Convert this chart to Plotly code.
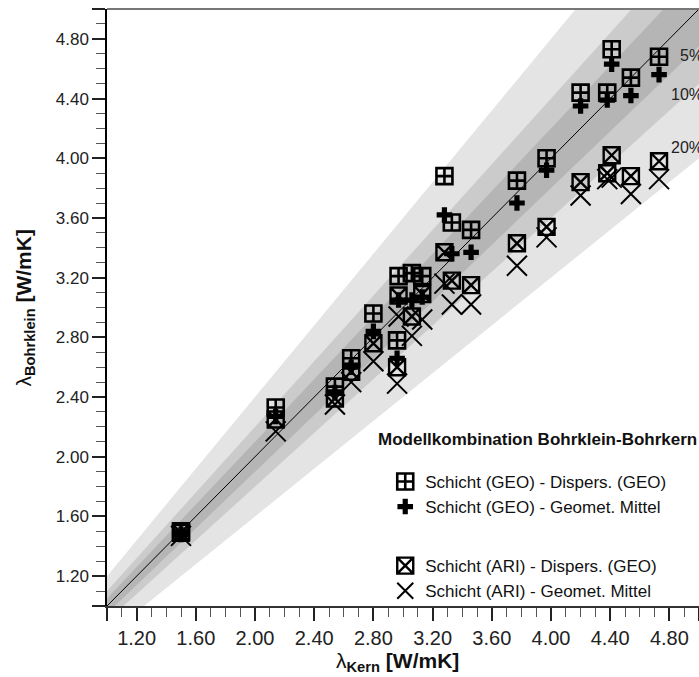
import plotly.graph_objects as go

# ---- data ----
kern = [1.50, 2.14, 2.54, 2.65, 2.80, 2.96, 2.97, 3.06, 3.13, 3.28, 3.33, 3.46,
        3.77, 3.97, 4.20, 4.38, 4.41, 4.54, 4.73]
geo_disp = [1.50, 2.33, 2.47, 2.66, 2.96, 2.78, 3.21, 3.23, 3.21, 3.88, 3.57, 3.52,
            3.85, 4.00, 4.44, 4.44, 4.73, 4.54, 4.68]
geo_geom = [1.48, 2.27, 2.43, 2.60, 2.84, 2.66, 3.05, 3.05, 3.07, 3.62, 3.36, 3.37,
            3.70, 3.92, 4.35, 4.39, 4.63, 4.42, 4.56]
ari_disp = [1.49, 2.25, 2.39, 2.57, 2.76, 2.60, 3.08, 2.94, 3.09, 3.37, 3.18, 3.15,
            3.43, 3.54, 3.84, 3.90, 4.02, 3.88, 3.98]
ari_geom = [1.47, 2.17, 2.35, 2.50, 2.64, 2.49, 2.94, 2.81, 2.92, 3.16, 3.02, 3.02,
            3.28, 3.47, 3.75, 3.86, 3.87, 3.76, 3.86]

series_names = ["Schicht (GEO) - Dispers. (GEO)", "Schicht (GEO) - Geomet. Mittel",
                "Schicht (ARI) - Dispers. (GEO)", "Schicht (ARI) - Geomet. Mittel"]
band_levels = [0.20, 0.10, 0.05]
band_labels = ["20%", "10%", "5%"]
tick_vals = [1.0, 1.2, 1.6, 2.0, 2.4, 2.8, 3.2, 3.6, 4.0, 4.4, 4.8, 5.0]
tick_text = ["", "1.20", "1.60", "2.00", "2.40", "2.80", "3.20", "3.60", "4.00", "4.40", "4.80", ""]

FONT = "Liberation Sans, Arial, sans-serif"
band_colors = ["#e4e4e4", "#cbcbcb", "#b5b5b5"]

fig = go.Figure()

# deviation bands (wedges around y = x)
xa, xb = 0.8, 5.3
for p, col in zip(band_levels, band_colors):
    fig.add_trace(go.Scatter(
        x=[xa, xb, xb, xa, xa],
        y=[xa * (1 + p), xb * (1 + p), xb * (1 - p), xa * (1 - p), xa * (1 + p)],
        fill="toself", fillcolor=col, mode="none", showlegend=False, hoverinfo="skip"))

fig.add_trace(go.Scatter(x=[xa, xb], y=[xa, xb], mode="lines",
                         line=dict(color="black", width=1), showlegend=False, hoverinfo="skip"))

styles = [
    dict(symbol="square-cross-open", size=16, color="black", line=dict(width=2.6, color="black")),
    dict(symbol="cross", size=13, color="black", line=dict(width=0)),
    dict(symbol="square-x-open", size=16, color="black", line=dict(width=2.4, color="black")),
    dict(symbol="x-thin-open", size=20, color="black", line=dict(width=2, color="black")),
]
groups = ["g1", "g1", "g2", "g2"]
for name, ys, st, g in zip(series_names, [geo_disp, geo_geom, ari_disp, ari_geom], styles, groups):
    fig.add_trace(go.Scatter(x=kern, y=ys, mode="markers", name=name, marker=st,
                             legendgroup=g, cliponaxis=False))

axis_common = dict(
    range=[1.0, 5.0], tickmode="array", tickvals=tick_vals, ticktext=tick_text,
    ticks="outside", ticklen=13, tickwidth=1.5, tickcolor="#222",
    showline=True, linewidth=1.5, showgrid=False, zeroline=False,
    minor=dict(tickmode="linear", tick0=1.0, dtick=0.1, ticks="outside",
               ticklen=9, tickwidth=1.2, tickcolor="#555", showgrid=False),
)

fig.update_xaxes(**axis_common, linecolor="#333",
                 tickfont=dict(family=FONT, size=20, color="#222"))
fig.update_yaxes(**axis_common, linecolor="black",
                 tickfont=dict(family=FONT, size=17, color="#222"))

annotations = [
    dict(text="λ<sub><b>Kern</b></sub> <b>[W/mK]</b>", xref="paper", yref="paper",
         x=0.49, y=-0.094, xanchor="center", yanchor="middle", showarrow=False,
         font=dict(family=FONT, size=21, color="#111")),
    dict(text="λ<sub><b>Bohrklein</b></sub> <b>[W/mK]</b>", xref="paper", yref="paper",
         x=-0.14, y=0.50, xanchor="center", yanchor="middle", textangle=-90, showarrow=False,
         font=dict(family=FONT, size=21, color="#111")),
    dict(text="<b>Modellkombination Bohrklein-Bohrkern</b>", xref="paper", yref="paper",
         x=0.455, y=0.279, xanchor="left", yanchor="middle", showarrow=False,
         font=dict(family=FONT, size=17, color="#111")),
]
label_pos = {"5%": (4.855, 4.69), "10%": (4.80, 4.425), "20%": (4.80, 4.07)}
for lab in band_labels:
    px_, py_ = label_pos[lab]
    annotations.append(dict(text=lab, x=px_, y=py_, xref="x", yref="y", xanchor="left",
                            yanchor="middle", showarrow=False,
                            font=dict(family=FONT, size=16, color="#222")))

fig.update_layout(
    width=699, height=677,
    margin=dict(l=107, r=0, t=9, b=71),
    paper_bgcolor="white", plot_bgcolor="white",
    showlegend=True,
    legend=dict(x=0.47, y=0.238, xanchor="left", yanchor="top",
                bgcolor="rgba(0,0,0,0)", font=dict(family=FONT, size=17, color="#111"),
                tracegroupgap=34, itemsizing="trace"),
    annotations=annotations,
    shapes=[dict(type="line", xref="paper", yref="paper", x0=0, x1=1, y0=1, y1=1,
                 line=dict(color="#777", width=2))],
)

fig.write_html("out.html")
